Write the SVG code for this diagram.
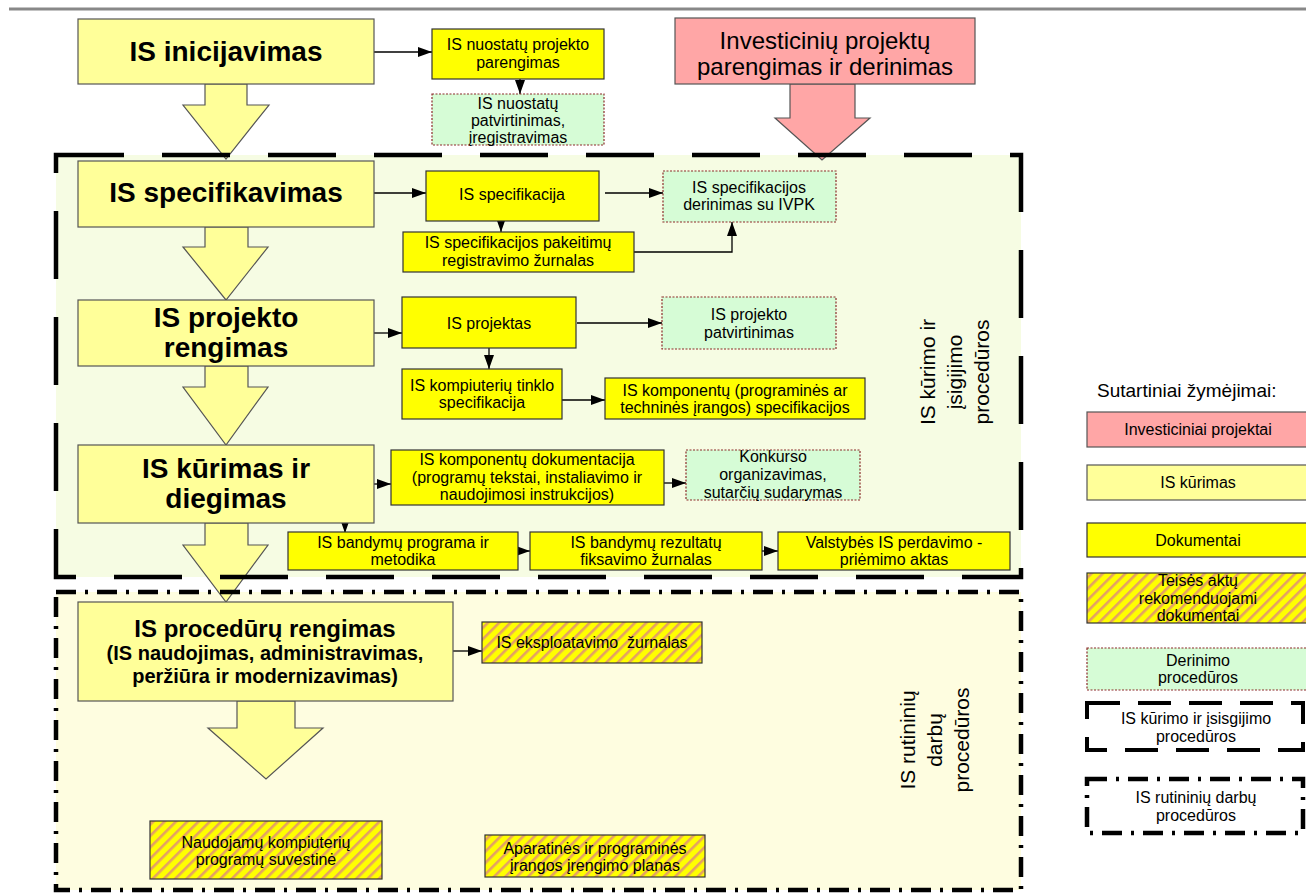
<svg xmlns="http://www.w3.org/2000/svg" width="1306" height="893" viewBox="0 0 1306 893">
<style>
text{font-family:"Liberation Sans",Arial,sans-serif;fill:#000}
.t{font-size:16px;text-anchor:middle}
.big{font-size:28px;font-weight:bold;text-anchor:middle}
.rot{font-size:21px;text-anchor:middle}
.main{fill:#FFFF99;stroke:#555;stroke-width:1.2}
.doc{fill:#FFFF00;stroke:#333;stroke-width:1.2}
.hat{fill:url(#hatch);stroke:#333;stroke-width:1.2}
.grn{fill:#D6FCD6;stroke:#8B2A2A;stroke-width:1.2;stroke-dasharray:2 1.5}
.pink{fill:#FFA6A6;stroke:#555;stroke-width:1.2}
.con{stroke:#000;stroke-width:1.3;fill:none;marker-end:url(#ah)}
.blk{fill:#FFFF99;stroke:#555;stroke-width:1.2}
.dash{fill:none;stroke:#000;stroke-width:4.5;stroke-dasharray:68 38}
.dd{fill:none;stroke:#000;stroke-width:4.5;stroke-dasharray:20 9 3 9}
</style>
<defs>
<marker id="ah" viewBox="0 0 14 10" refX="14" refY="5" markerWidth="14" markerHeight="10" markerUnits="userSpaceOnUse" orient="auto">
<path d="M0,0 L14,5 L0,10 z" fill="#000"/>
</marker>
<pattern id="hatch" patternUnits="userSpaceOnUse" width="8" height="8" patternTransform="rotate(45)">
<rect width="8" height="8" fill="#FFFF00"/>
<rect width="2.6" height="8" fill="#E4A064"/>
</pattern>
</defs>
<rect width="1306" height="893" fill="#fff"/>
<line x1="9" y1="9" x2="1306" y2="9" stroke="#888" stroke-width="3"/>

<g id="region-kurimo">
<rect x="56" y="155" width="965" height="422" fill="#F6FCE3"/>
<text class="rot" transform="translate(962,372) rotate(-90)"><tspan x="0" y="-27">IS kūrimo ir</tspan><tspan x="0" y="0">įsigijimo</tspan><tspan x="0" y="27">procedūros</tspan></text>
</g>
<g id="region-rutininiu">
<rect x="56" y="592" width="965" height="298" fill="#FEFDE0"/>
<text class="rot" transform="translate(942,740) rotate(-90)"><tspan x="0" y="-27">IS rutininių</tspan><tspan x="0" y="0">darbų</tspan><tspan x="0" y="27">procedūros</tspan></text>
</g>

<g id="connectors">
<polygon class="blk" points="205,84 247,84 247,105 269,105 226,159 183,105 205,105"/>
<polygon class="blk" points="205,227 248,227 248,247 268,247 226,300 183,247 205,247"/>
<polygon class="blk" points="205,366 248,366 248,387 268,387 226,445 183,387 205,387"/>
<polygon class="blk" points="205,523 248,523 248,545 268,545 226,602 183,545 205,545"/>
<polygon class="blk" points="237,701 295,701 295,728 323,728 266,779 208,728 237,728"/>
<polygon class="pink" points="790,84 855,84 855,118 870,118 822,160 775,118 790,118"/>
<path class="con" d="M374,52 H432"/>
<path class="con" d="M520,79 V94"/>
<path class="con" d="M374,193 H426"/>
<path class="con" d="M605,193 H663"/>
<path class="con" d="M501,221 V232"/>
<path class="con" d="M634,252 H732 V222"/>
<path class="con" d="M374,333 H402"/>
<path class="con" d="M577,323 H662"/>
<path class="con" d="M489,348 V369"/>
<path class="con" d="M562,400 H605"/>
<path class="con" d="M374,484 H391"/>
<path class="con" d="M664,483 H686"/>
<path class="con" d="M345,523 V533"/>
<path class="con" d="M518,551 H530"/>
<path class="con" d="M762,551 H778"/>
<path class="con" d="M453,651 H482"/>
</g>

<g id="region-borders">
<rect class="dash" x="56" y="155" width="965" height="422"/>
<rect class="dd" x="56" y="592" width="965" height="298"/>
</g>

<g id="n-inicijavimas"><rect class="main" x="78" y="19" width="296" height="65"/><text class="big" x="226" y="61">IS inicijavimas</text></g>
<g id="n-investiciniu"><rect class="pink" x="675" y="18" width="300" height="66"/><text x="825" y="49" style="font-size:24px;text-anchor:middle">Investicinių projektų</text><text x="825" y="75" style="font-size:24px;text-anchor:middle">parengimas ir derinimas</text></g>
<g id="n-nuostatu-projektas"><rect class="doc" x="432" y="29" width="172" height="50"/><text class="t" x="518" y="50">IS nuostatų projekto</text><text class="t" x="518" y="68">parengimas</text></g>
<g id="n-nuostatu-patvirtinimas"><rect class="grn" x="432" y="94" width="172" height="51"/><text class="t" x="518" y="109">IS nuostatų</text><text class="t" x="518" y="126">patvirtinimas,</text><text class="t" x="518" y="143">įregistravimas</text></g>

<g id="n-specifikavimas"><rect class="main" x="78" y="161" width="296" height="66"/><text class="big" x="226" y="202">IS specifikavimas</text></g>
<g id="n-specifikacija"><rect class="doc" x="426" y="171" width="173" height="50"/><text class="t" x="512" y="200">IS specifikacija</text></g>
<g id="n-ivpk"><rect class="grn" x="663" y="171" width="173" height="51"/><text class="t" x="749" y="193">IS specifikacijos</text><text class="t" x="749" y="210">derinimas su IVPK</text></g>
<g id="n-pakeitimu"><rect class="doc" x="403" y="232" width="231" height="40"/><text class="t" x="518" y="248">IS specifikacijos pakeitimų</text><text class="t" x="518" y="266">registravimo žurnalas</text></g>

<g id="n-projekto-rengimas"><rect class="main" x="78" y="300" width="296" height="66"/><text class="big" x="226" y="327">IS projekto</text><text class="big" x="226" y="357">rengimas</text></g>
<g id="n-projektas"><rect class="doc" x="402" y="297" width="174" height="51"/><text class="t" x="489" y="329">IS projektas</text></g>
<g id="n-projekto-patvirtinimas"><rect class="grn" x="662" y="297" width="174" height="52"/><text class="t" x="749" y="320">IS projekto</text><text class="t" x="749" y="338">patvirtinimas</text></g>
<g id="n-tinklo"><rect class="doc" x="402" y="369" width="160" height="50"/><text class="t" x="482" y="391">IS kompiuterių tinklo</text><text class="t" x="482" y="408">specifikacija</text></g>
<g id="n-komponentu-spec"><rect class="doc" x="605" y="378" width="260" height="41"/><text class="t" x="735" y="396">IS komponentų (programinės ar</text><text class="t" x="735" y="413">techninės įrangos) specifikacijos</text></g>

<g id="n-kurimas"><rect class="main" x="78" y="445" width="296" height="78"/><text class="big" x="226" y="478">IS kūrimas ir</text><text class="big" x="226" y="508">diegimas</text></g>
<g id="n-dokumentacija"><rect class="doc" x="391" y="450" width="273" height="55"/><text class="t" x="527" y="465">IS komponentų dokumentacija</text><text class="t" x="527" y="483">(programų tekstai, instaliavimo ir</text><text class="t" x="527" y="500">naudojimosi instrukcijos)</text></g>
<g id="n-konkurso"><rect class="grn" x="686" y="450" width="174" height="50"/><text class="t" x="773" y="462">Konkurso</text><text class="t" x="773" y="480">organizavimas,</text><text class="t" x="773" y="498">sutarčių sudarymas</text></g>
<g id="n-bandymu-programa"><rect class="doc" x="288" y="532" width="230" height="38"/><text class="t" x="403" y="548">IS bandymų programa ir</text><text class="t" x="403" y="565">metodika</text></g>
<g id="n-bandymu-rezultatu"><rect class="doc" x="530" y="532" width="232" height="38"/><text class="t" x="646" y="548">IS bandymų rezultatų</text><text class="t" x="646" y="565">fiksavimo žurnalas</text></g>
<g id="n-perdavimo"><rect class="doc" x="778" y="532" width="232" height="38"/><text class="t" x="894" y="548">Valstybės IS perdavimo -</text><text class="t" x="894" y="565">priėmimo aktas</text></g>

<g id="n-proceduru"><rect class="main" x="78" y="602" width="375" height="99"/><text x="265" y="637" style="font-size:24px;font-weight:bold;text-anchor:middle">IS procedūrų rengimas</text><text x="265" y="660" style="font-size:20px;font-weight:bold;text-anchor:middle">(IS naudojimas, administravimas,</text><text x="265" y="683" style="font-size:20px;font-weight:bold;text-anchor:middle">peržiūra ir modernizavimas)</text></g>
<g id="n-eksploatavimo"><rect class="hat" x="482" y="622" width="220" height="41"/><text class="t" x="592" y="648" xml:space="preserve">IS eksploatavimo  žurnalas</text></g>
<g id="n-suvestine"><rect class="hat" x="150" y="821" width="232" height="58"/><text class="t" x="266" y="848">Naudojamų kompiuterių</text><text class="t" x="266" y="865">programų suvestinė</text></g>
<g id="n-irengimo"><rect class="hat" x="485" y="835" width="220" height="42"/><text class="t" x="595" y="854">Aparatinės ir programinės</text><text class="t" x="595" y="871">įrangos įrengimo planas</text></g>

<g id="legend">
<text x="1097" y="397" style="font-size:19px">Sutartiniai žymėjimai:</text>
<rect class="pink" x="1087" y="412" width="225" height="35"/><text class="t" x="1198" y="435">Investiciniai projektai</text>
<rect class="main" x="1087" y="465" width="225" height="35"/><text class="t" x="1198" y="488">IS kūrimas</text>
<rect class="doc" x="1087" y="523" width="225" height="34"/><text class="t" x="1198" y="546">Dokumentai</text>
<rect class="hat" x="1087" y="573" width="225" height="50"/><text class="t" x="1198" y="586">Teisės aktų</text><text class="t" x="1198" y="604">rekomenduojami</text><text class="t" x="1198" y="621">dokumentai</text>
<rect class="grn" x="1087" y="648" width="225" height="42"/><text class="t" x="1198" y="666">Derinimo</text><text class="t" x="1198" y="683">procedūros</text>
<rect x="1087" y="703" width="216" height="47" fill="none" stroke="#000" stroke-width="4" stroke-dasharray="33 18"/><text class="t" x="1196" y="724">IS kūrimo ir įsisgijimo</text><text class="t" x="1196" y="742">procedūros</text>
<rect class="dd" x="1087" y="779" width="216" height="54"/><text class="t" x="1196" y="803">IS rutininių darbų</text><text class="t" x="1196" y="821">procedūros</text>
</g>
</svg>
